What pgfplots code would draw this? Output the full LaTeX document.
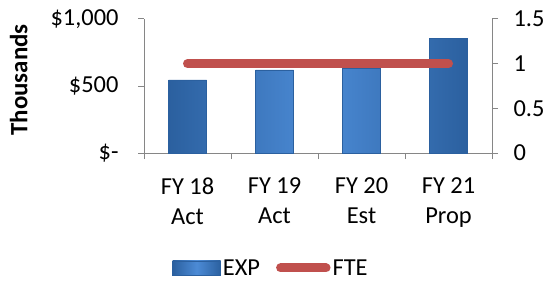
\documentclass[border=0pt]{standalone}
\usepackage{fontspec}
\setmainfont{Carlito}
\usepackage{pgfplots}
\pgfplotsset{compat=1.18}
\definecolor{axgray}{HTML}{868686}
\definecolor{fte}{HTML}{C0504D}
\definecolor{barmid}{HTML}{4C8BD6}
\definecolor{bardark}{HTML}{2B609F}
\tikzset{barstyle/.style={draw=bardark, left color=bardark, right color=bardark, middle color=barmid}}
\pgfplotsset{
  common/.style={
    at={(144bp,133bp)}, anchor=south west,
    scale only axis, width=348bp, height=134bp,
    xmin=-0.5, xmax=3.5,
    font=\fontsize{24.5}{30}\selectfont,
    tick align=outside,
    axis line style={axgray, line width=1bp},
    tick style={axgray, line width=1bp},
    major tick length=6bp, minor tick length=6bp,
    /pgf/number format/assume math mode=true,
  },
  barlegend/.style={legend image code/.code={\path[barstyle] (0bp,-7bp) rectangle (48bp,7bp);}},
  linelegend/.style={legend image code/.code={\draw[fte, line width=9bp, line cap=round] (4.5bp,0bp) -- (50bp,0bp);}},
}
\begin{document}
\begin{tikzpicture}[x=1bp,y=1bp]
\begin{axis}[common,
  axis x line*=bottom, axis y line*=left,
  ymin=0, ymax=1000,
  xtick={0,1,2,3},
  xticklabels={{FY 18\\Act},{FY 19\\Act},{FY 20\\Est},{FY 21\\Prop}},
  xticklabel style={align=center, text depth=0pt, font=\fontsize{24.5}{30}\selectfont, yshift=-15bp},
  major x tick style={draw=none},
  minor xtick={-0.5,0.5,1.5,2.5,3.5},
  ytick={0,500,1000},
  yticklabels={{\$-},{\$500},{\$1,000}},
  yticklabel style={xshift=-16bp},
  ylabel={\textbf{Thousands}},
  ylabel style={at={(axis description cs:-0.36,0.545)}, anchor=center, font=\fontsize{25}{30}\selectfont},
  ybar, bar width=38bp,
]
\addplot[barstyle] coordinates {(0,545) (1,620) (2,630) (3,858)};
\end{axis}
\begin{axis}[common,
  axis x line=none, axis y line*=right,
  ymin=0, ymax=1.5,
  ytick={0,0.5,1,1.5},
  yticklabels={0,0.5,1,1.5},
  yticklabel style={xshift=12bp},
  legend style={draw=none, fill=none, at={(0.365,-0.858)}, anchor=center,
    font=\fontsize{24.5}{30}\selectfont,
    /tikz/every even column/.append style={column sep=14bp}},
  legend columns=2,
]
\addlegendimage{barlegend}
\addlegendentry{EXP}
\addplot[fte, line width=9bp, line cap=round, linelegend]
  coordinates {(0,1) (1,1) (2,1) (3,1)};
\addlegendentry{FTE}
\end{axis}
\pgfresetboundingbox
\path (0,0) rectangle (556,286);
\end{tikzpicture}
\end{document}
